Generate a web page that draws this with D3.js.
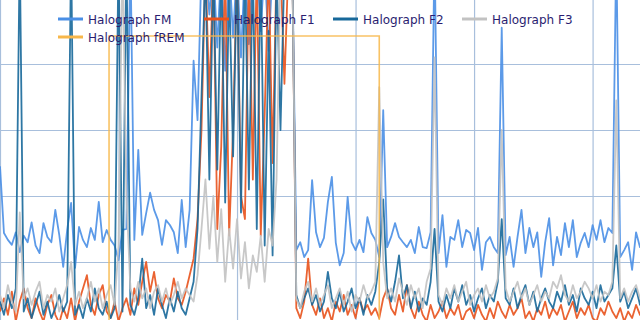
<!doctype html>
<html lang="en">
<head>
  <meta charset="utf-8">
  <title>Halograph</title>
  <script src="https://cdn.jsdelivr.net/npm/d3@7"></script>
  <style>
    html, body { margin: 0; padding: 0; background: #fff; }
    svg { display: block; }
    .grid line { stroke: #a8bfdc; stroke-width: 1.2; }
    .grid path { display: none; }
    .legend text { font-family: "DejaVu Sans", Verdana, sans-serif; font-size: 12px; fill: #2a1d70; }
  </style>
</head>
<body>
<svg id="chart" width="640" height="320"></svg>
<script>
  // 20 s epochs, one value per epoch
  const epochSeconds = 20;

  const fm = [49, 28.8, 26.7, 25.2, 29, 23, 28, 26, 32, 25, 22.7, 31.8, 27.6, 26, 35.8, 28.2, 18.5, 29.7, 37.9, 18.2,
    30.6, 26.7, 24.5, 30.3, 26.7, 38.2, 26, 29.7, 26.7, 25, 20.6, 29.7, 30, 115, 26.7, 54, 28.2, 34.8, 41, 35.8,
    32.7, 25.2, 32.7, 31.2, 29, 22.7, 38.8, 24.5, 35.8, 81, 63, 110, 110, 95, 110, 85, 110, 78, 110, 88,
    110, 82, 110, 86, 110, 110, 90, 110, 84, 110, 110, 110, 110, 110, 110, 23.6, 26, 21.5, 23.6, 44.8,
    29, 24.5, 27.3, 38.2, 45.8, 25.8, 19, 22.7, 39.7, 26, 23.6, 26.7, 23, 33.6, 28.8, 26.7, 21.5, 66, 24.5, 27.6,
    31.8, 27.6, 26, 24.5, 26.7, 22.7, 30.6, 24.5, 24.2, 29, 115, 22.7, 34.2, 18.5, 27.6, 26.7, 32.7, 24.5, 29.7, 28.8,
    23.6, 30.3, 17.6, 26, 27.6, 24.5, 22.7, 91, 22.1, 27.6, 18.5, 27.6, 35.8, 22.7, 30.3, 24.5, 29, 15.5, 26, 33.3,
    19, 27.6, 22.1, 31.8, 24.5, 32.7, 21.5, 25.8, 28.8, 24.5, 31.2, 26.7, 32.7, 26, 30.3, 28.8, 115, 21.5, 23.6, 26,
    17.6, 29, 24.5, 26];

  const f1 = [5, 9, 4, 11, 2, 8, 12, 6, 3, 9, 5, 2, 7, 10, 4, 1.5, 6, 3, 9, 2,
    8, 12, 16, 7, 4, 10, 13, 5, 3, 8, 2, 6, 9, 4, 12, 7, 14, 20, 11, 17,
    9, 6, 10, 8, 15, 9, 7, 11, 16, 21, 33, 60, 110, 70, 110, 30, 55, 110, 28, 60,
    110, 40, 33, 110, 45, 110, 28, 65, 110, 50, 110, 110, 74, 110, 110, 6, 3, 8, 21, 7,
    4, 9, 3, 6, 2, 8, 5, 10, 4, 7, 3, 9, 5, 7, 4, 6, 3, 9, 12, 6,
    4, 10, 5, 13, 6, 3, 8, 4, 2, 7, 3, 5, 8, 3, 6, 4, 7, 2, 5, 6,
    3, 7, 4, 2, 6, 3, 8, 5, 3, 7, 4, 6, 9, 3, 5, 2, 6, 4, 8, 3,
    6, 4, 7, 2, 5, 8, 3, 6, 4, 7, 3, 2, 6, 4, 8, 5, 3, 6, 2, 5,
    3, 7, 4, 5];

  const f2 = [8, 4, 10, 6, 12, 115, 5, 9, 3, 7, 11, 4, 8, 3, 6, 10, 5, 8, 115, 4,
    7, 3, 9, 5, 12, 6, 4, 8, 3, 6, 115, 5, 115, 7, 4, 9, 21, 6, 10, 4,
    12, 7, 3, 9, 5, 11, 6, 4, 9, 14, 30, 70, 110, 45, 110, 48, 110, 38, 105, 52,
    110, 35, 110, 42, 110, 30, 110, 25, 90, 22, 110, 60, 110, 110, 110, 10, 6, 9, 12, 7,
    10, 5, 8, 17, 9, 6, 11, 5, 8, 12, 6, 9, 4, 10, 7, 11, 20, 39, 12, 8,
    14, 22, 9, 13, 6, 11, 5, 9, 7, 14, 30, 8, 5, 10, 6, 12, 8, 13, 7, 10,
    5, 9, 12, 6, 10, 8, 14, 33, 9, 7, 12, 6, 10, 13, 7, 11, 5, 9, 12, 8,
    6, 11, 8, 13, 7, 10, 5, 12, 9, 7, 11, 6, 13, 8, 10, 12, 25, 8, 11, 6,
    9, 12, 7, 10];

  const f3 = [10, 6, 13, 8, 5, 35, 9, 12, 7, 11, 14, 6, 10, 8, 12, 5, 9, 13, 20, 7,
    11, 6, 9, 14, 8, 12, 6, 10, 13, 7, 25, 115, 40, 12, 8, 14, 9, 12, 6, 11,
    13, 8, 12, 7, 10, 14, 9, 12, 10, 8, 16, 30, 45, 24, 40, 20, 36, 14, 30, 18,
    33, 15, 26, 12, 22, 17, 28, 14, 30, 25, 45, 110, 110, 110, 110, 9, 6, 11, 14, 8,
    12, 7, 10, 13, 6, 9, 12, 7, 11, 5, 10, 8, 13, 9, 11, 14, 73, 20, 9, 12,
    8, 15, 11, 7, 13, 9, 12, 6, 14, 18, 82, 10, 7, 12, 9, 13, 8, 11, 14, 7,
    10, 12, 8, 13, 9, 11, 15, 60, 12, 8, 11, 14, 9, 12, 7, 10, 13, 8, 11, 9,
    14, 12, 16, 10, 8, 13, 9, 11, 14, 12, 9, 13, 8, 11, 10, 14, 69, 9, 12, 8,
    11, 13, 9, 10];

  // fREM is a step series: change points in seconds and their levels
  const fremTimes = [0, 552, 1920, 3260];
  const fremValues = [0, 88.5, 0, 0];

  const seriesNames = ["Halograph FM", "Halograph F1", "Halograph F2", "Halograph F3", "Halograph fREM"];
  const seriesColors = ["#4a8fe6", "#e8521c", "#17689a", "#c2c2c2", "#f7b74a"];

  const xGridSeconds = [0, 600, 1200, 1800, 2400, 3000];
  const yGridValues = [20, 40, 60, 80];

  const width = 640, height = 320;
  const svg = d3.select("#chart");

  const x = d3.scaleLinear().domain([0, 3240]).range([0, 640]);
  const y = d3.scaleLinear().domain([0, 100]).range([328, -2]);

  // grid
  svg.append("g").attr("class", "grid")
    .attr("transform", "translate(0," + height + ")")
    .call(d3.axisBottom(x).tickValues(xGridSeconds).tickSize(-height).tickFormat(""));
  svg.append("g").attr("class", "grid")
    .call(d3.axisLeft(y).tickValues(yGridValues).tickSize(-width).tickFormat(""));

  const line = d3.line()
    .x(d => x(d[0]))
    .y(d => y(d[1]));

  const epochSeries = [fm, f1, f2, f3];
  epochSeries.forEach((vals, k) => {
    svg.append("path")
      .datum(vals.map((v, i) => [i * epochSeconds, v]))
      .attr("fill", "none")
      .attr("stroke", seriesColors[k])
      .attr("stroke-width", 1.8)
      .attr("stroke-opacity", 0.9)
      .attr("stroke-linejoin", "round")
      .attr("d", line);
  });

  svg.append("path")
    .datum(fremTimes.map((t, i) => [t, fremValues[i]]))
    .attr("fill", "none")
    .attr("stroke", seriesColors[4])
    .attr("stroke-width", 1.6)
    .attr("stroke-opacity", 0.85)
    .attr("d", line.curve(d3.curveStepAfter));

  // legend, two rows
  const legendPos = [[58, 19], [204, 19], [333, 19], [462, 19], [58, 37]];
  const legend = svg.append("g").attr("class", "legend");
  const items = legend.selectAll("g")
    .data(seriesNames)
    .enter()
    .append("g")
    .attr("transform", (d, i) => "translate(" + legendPos[i][0] + "," + legendPos[i][1] + ")");
  items.append("line")
    .attr("x1", 0).attr("x2", 25)
    .attr("y1", 0).attr("y2", 0)
    .attr("stroke", (d, i) => seriesColors[i])
    .attr("stroke-width", 3);
  items.append("text")
    .attr("x", 30)
    .attr("y", 4.5)
    .text(d => d);
</script>
</body>
</html>
